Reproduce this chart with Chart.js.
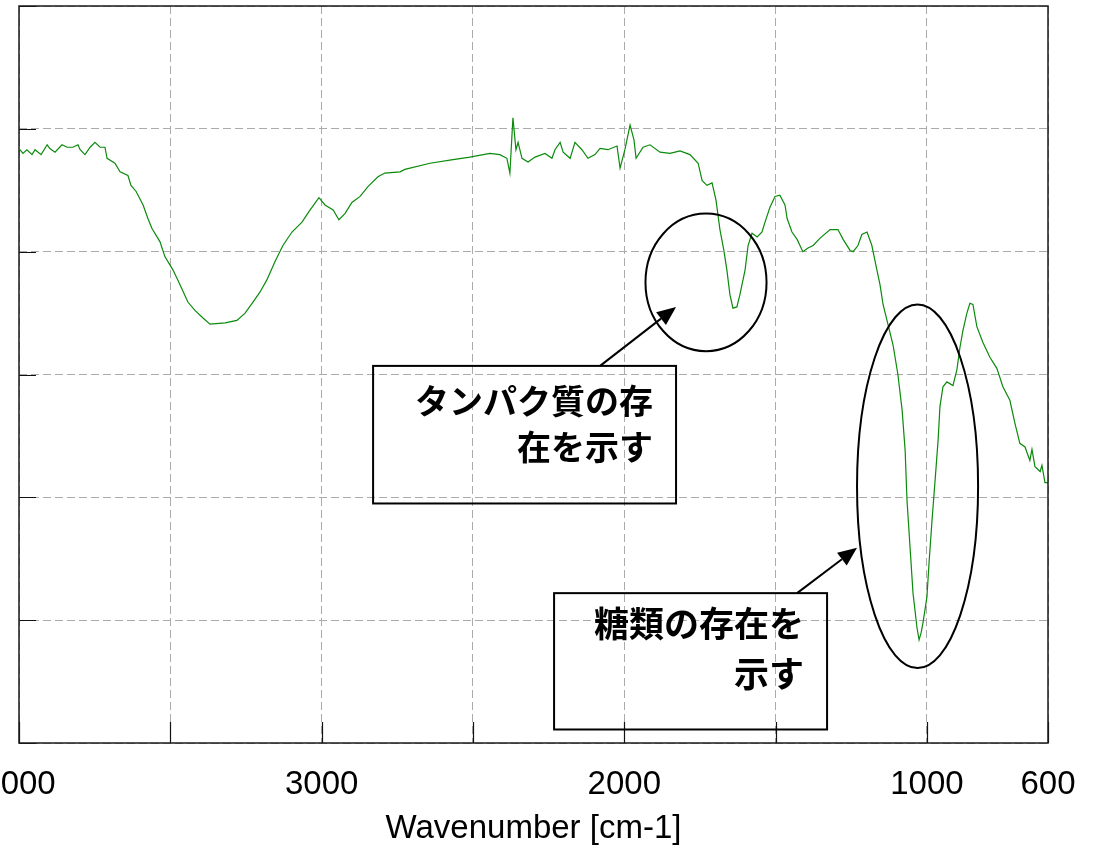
<!DOCTYPE html>
<html>
<head>
<meta charset="utf-8">
<script src="https://cdn.jsdelivr.net/npm/chart.js@4.4.1/dist/chart.umd.min.js"></script>
<style>
  html, body { margin: 0; padding: 0; background: #fff; overflow: hidden; width: 1093px; height: 850px; }
  #wrap { position: absolute; left: -60px; top: 0; width: 1153px; height: 850px; }
</style>
</head>
<body>
<div id="wrap"><canvas id="ir" width="1153" height="850"></canvas></div>
<script>
// IR spectrum: wavenumber [cm-1] and transmittance [%]
const wavenumbers = [
  3997,3987,3974,3957,3947,3927,3907,3898,3881,3858,
  3841,3822,3805,3798,3782,3765,3749,3732,3716,3709,
  3683,3666,3640,3630,3613,3590,3574,3561,3534,3518,
  3491,3468,3442,3418,3392,3369,3319,3280,3253,3227,
  3204,3181,3154,3128,3098,3065,3038,3009,2989,2962,
  2943,2923,2900,2873,2847,2814,2791,2741,2725,2642,
  2566,2510,2444,2411,2388,2378,2368,2358,2351,2338,
  2318,2295,2262,2239,2229,2212,2202,2179,2163,2140,
  2120,2097,2080,2054,2024,2014,1998,1981,1968,1961,
  1938,1915,1882,1849,1816,1783,1756,1743,1727,1710,
  1697,1684,1671,1661,1651,1641,1628,1618,1601,1591,
  1578,1561,1545,1535,1519,1502,1486,1469,1462,1446,
  1429,1410,1393,1376,1353,1320,1294,1277,1254,1244,
  1228,1215,1198,1182,1172,1155,1145,1132,1112,1096,
  1082,1072,1066,1056,1046,1033,1026,1019,1013,1000,
  993,983,973,963,957,947,934,914,901,891,
  881,868,858,848,835,815,792,769,749,726,
  709,693,676,660,653,643,626,620,610,600
];
const transmittance = [
  88.3,88.0,88.3,87.9,88.3,87.9,88.7,88.4,88.1,88.7,
  88.5,88.5,88.7,88.3,87.9,88.5,88.9,88.5,88.5,87.6,
  87.2,86.5,86.2,85.4,84.9,83.8,82.7,81.9,80.8,79.6,
  78.5,77.3,75.9,75.2,74.6,74.1,74.2,74.4,75.0,75.9,
  76.7,77.7,79.2,80.5,81.6,82.4,83.4,84.4,83.8,83.4,
  82.6,83.1,84.0,84.5,85.3,86.1,86.4,86.5,86.7,87.2,
  87.5,87.7,88.0,87.9,87.6,86.4,90.9,88.3,88.9,87.6,
  87.3,87.7,88.0,87.6,88.3,88.9,88.1,87.6,88.9,88.3,
  87.6,87.9,88.4,88.3,88.6,86.8,88.3,90.3,89.1,87.6,
  88.5,88.7,88.1,88.0,88.2,87.9,87.2,85.8,85.4,85.6,
  84.2,81.8,80.1,78.5,76.5,75.4,75.5,76.5,78.5,80.5,
  81.5,81.2,81.6,82.4,83.6,84.5,84.6,83.8,82.7,81.6,
  81.0,80.0,80.3,80.5,81.1,81.8,81.8,81.0,80.1,80.0,
  80.5,81.4,81.6,80.5,79.3,77.3,75.7,74.4,72.4,70.0,
  67.1,63.8,59.8,56.0,52.2,49.4,48.4,49.0,49.8,51.9,
  54.7,58.2,61.4,64.7,67.4,69.0,69.4,69.1,70.4,72.2,
  73.6,75.0,75.8,75.7,73.9,72.6,71.4,70.5,69.0,67.9,
  66.0,64.4,64.1,63.0,63.9,62.5,62.1,62.6,61.2,61.2
];

// x-axis ticks (grid every 500) and the ones that carry a label
const xTickValues = [4000, 3500, 3000, 2500, 2000, 1500, 1000, 600];
const xLabelValues = [4000, 3000, 2000, 1000, 600];
const xTickLabels = ['4000', '3000', '2000', '1000', '600'];
const xAxisTitle = 'Wavenumber [cm-1]';

// absorption bands that are circled (centre and half-sizes in axis units)
const bandRings = [
  { cx: 1730, cy: 77.5, rx: 200, ry: 5.6 },
  { cx: 1031, cy: 60.9, rx: 200, ry: 14.8 }
];

// explanatory notes: box corners in axis units, arrow from box to ring
const notes = [
  { lines: ['タンパク質の存', '在を示す'], left: 2830, right: 1829, top: 70.7, bottom: 59.5,
    arrowFrom: [2080, 70.7], arrowTo: [1829, 75.5], fontSize: 34, firstLine: 35, lineGap: 46 },
  { lines: ['糖類の存在を', '示す'], left: 2232, right: 1330, top: 52.2, bottom: 41.1,
    arrowFrom: [1429, 52.2], arrowTo: [1231, 55.9], fontSize: 35, firstLine: 31, lineGap: 50 }
];

const points = wavenumbers.map((w, i) => ({ x: w, y: transmittance[i] }));
const latinFont = '"Liberation Sans", Arial, sans-serif';
const cjkFont = '"Noto Sans CJK JP", "Noto Sans CJK SC", sans-serif';

const decorations = {
  id: 'decorations',
  afterDatasetsDraw(chart) {
    const { ctx, chartArea: a, scales: { x, y } } = chart;
    ctx.save();

    // inward tick marks on the bottom and left axes
    ctx.strokeStyle = '#111';
    ctx.lineWidth = 1.2;
    ctx.beginPath();
    xTickValues.forEach(v => {
      const px = Math.round(x.getPixelForValue(v)) + 0.5;
      ctx.moveTo(px, a.bottom);
      ctx.lineTo(px, a.bottom - 21);
    });
    y.ticks.forEach(t => {
      const py = Math.round(y.getPixelForValue(t.value)) + 0.5;
      ctx.moveTo(a.left, py);
      ctx.lineTo(a.left + 17, py);
    });
    ctx.stroke();

    // plot frame
    ctx.strokeStyle = '#1a1a1a';
    ctx.lineWidth = 1.5;
    ctx.strokeRect(a.left, a.top, a.right - a.left, a.bottom - a.top);

    // rings around the bands
    ctx.strokeStyle = '#000';
    ctx.lineWidth = 2;
    bandRings.forEach(r => {
      const cx = x.getPixelForValue(r.cx), cy = y.getPixelForValue(r.cy);
      const rx = Math.abs(x.getPixelForValue(r.cx + r.rx) - cx);
      const ry = Math.abs(y.getPixelForValue(r.cy + r.ry) - cy);
      ctx.beginPath();
      ctx.ellipse(cx, cy, rx, ry, 0, 0, Math.PI * 2);
      ctx.stroke();
    });

    // note boxes, text and arrows
    notes.forEach(n => {
      const l = x.getPixelForValue(n.left), r = x.getPixelForValue(n.right);
      const t = y.getPixelForValue(n.top), b = y.getPixelForValue(n.bottom);
      ctx.lineWidth = 2;
      ctx.strokeStyle = '#000';
      ctx.strokeRect(l, t, r - l, b - t);

      ctx.fillStyle = '#000';
      ctx.font = 'bold ' + n.fontSize + 'px ' + cjkFont;
      ctx.textAlign = 'right';
      ctx.textBaseline = 'middle';
      n.lines.forEach((s, i) => ctx.fillText(s, r - 23, t + n.firstLine + i * n.lineGap));

      const x0 = x.getPixelForValue(n.arrowFrom[0]), y0 = y.getPixelForValue(n.arrowFrom[1]);
      const x1 = x.getPixelForValue(n.arrowTo[0]), y1 = y.getPixelForValue(n.arrowTo[1]);
      const ang = Math.atan2(y1 - y0, x1 - x0);
      const head = 19, half = 8;
      const bx = x1 - head * Math.cos(ang), by = y1 - head * Math.sin(ang);
      ctx.beginPath();
      ctx.moveTo(x0, y0);
      ctx.lineTo(bx, by);
      ctx.stroke();
      ctx.beginPath();
      ctx.moveTo(x1, y1);
      ctx.lineTo(bx + half * Math.sin(ang), by - half * Math.cos(ang));
      ctx.lineTo(bx - half * Math.sin(ang), by + half * Math.cos(ang));
      ctx.closePath();
      ctx.fill();
    });

    ctx.restore();
  }
};

new Chart(document.getElementById('ir'), {
  type: 'line',
  data: {
    datasets: [{
      data: points,
      borderColor: '#0b8a0b',
      borderWidth: 1.2,
      pointRadius: 0,
      tension: 0,
      fill: false
    }]
  },
  options: {
    responsive: false,
    animation: false,
    devicePixelRatio: 1,
    layout: { padding: { left: 79, right: 45, top: 6, bottom: 0 } },
    plugins: { legend: { display: false }, tooltip: { enabled: false } },
    scales: {
      x: {
        type: 'linear',
        reverse: true,
        min: 600,
        max: 4000,
        afterBuildTicks: s => { s.ticks = xTickValues.map(v => ({ value: v })); },
        ticks: {
          autoSkip: false,
          maxRotation: 0,
          minRotation: 0,
          padding: 3,
          color: '#000',
          font: { family: latinFont, size: 33, lineHeight: 1 },
          callback: v => {
            const i = xLabelValues.indexOf(v);
            return i >= 0 ? xTickLabels[i] : '';
          }
        },
        grid: { color: '#ababab', lineWidth: 1, drawTicks: true, tickLength: 22, tickColor: 'rgba(0,0,0,0)' },
        border: { display: false, dash: [8, 4] },
        title: {
          display: true,
          text: xAxisTitle,
          color: '#000',
          font: { family: latinFont, size: 33, lineHeight: 1 },
          padding: { top: 8, bottom: 5 }
        }
      },
      y: {
        min: 40,
        max: 100,
        ticks: { stepSize: 10, display: false },
        grid: { color: '#ababab', lineWidth: 1, drawTicks: false },
        border: { display: false, dash: [8, 4] }
      }
    }
  },
  plugins: [decorations]
});
</script>
</body>
</html>
